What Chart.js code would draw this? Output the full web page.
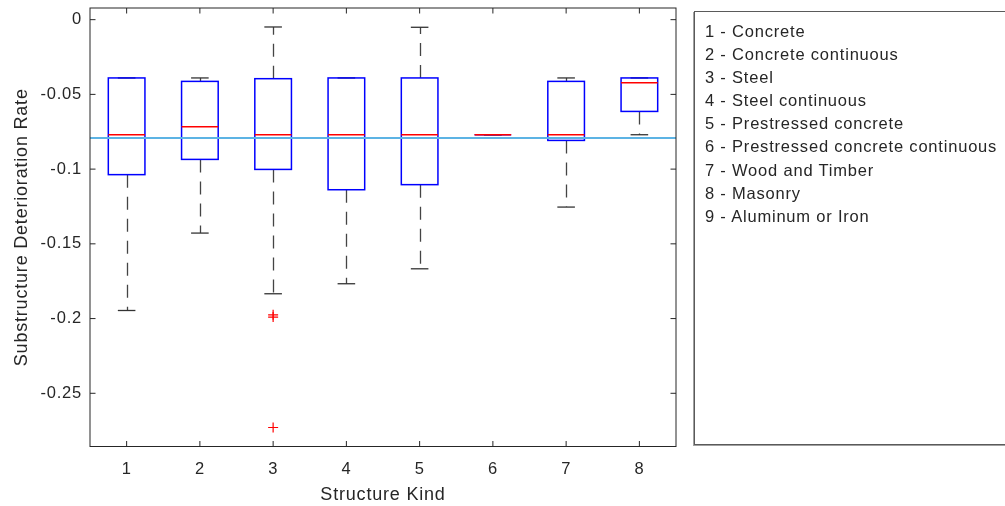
<!DOCTYPE html>
<html>
<head>
<meta charset="utf-8">
<script src="https://cdn.jsdelivr.net/npm/chart.js@4/dist/chart.umd.min.js"></script>
<style>
  body { margin: 0; background: #fff; }
  #wrap { position: relative; width: 1005px; height: 506px; overflow: hidden; }
  #kindBox {
    position: absolute; left: 694px; top: 11px; width: 340px; height: 434px;
    box-sizing: border-box; border: 1px solid #5a5a5a; box-shadow: -1px 1px 0 #a0a0a0;
    padding: 8px 0 0 10px; background: #fff;
    font-family: "Liberation Sans", Arial, sans-serif; font-size: 16.5px; letter-spacing: 0.8px;
    line-height: 23.1px; color: #262626;
  }
</style>
</head>
<body>
<div id="wrap">
  <canvas id="rateChart" width="1005" height="506"></canvas>
  <div id="kindBox"></div>
</div>
<script>
// deterioration rate summary per structure kind
const kinds = [1, 2, 3, 4, 5, 6, 7, 8];
const upperWhisker = [-0.039, -0.039, -0.0049, -0.039, -0.0051, -0.077, -0.039, -0.039];
const q3 = [-0.039, -0.0413, -0.0395, -0.039, -0.039, -0.077, -0.0413, -0.039];
const medians = [-0.077, -0.0716, -0.077, -0.077, -0.077, -0.077, -0.077, -0.0422];
const q1 = [-0.1037, -0.0935, -0.1002, -0.1138, -0.1104, -0.077, -0.0808, -0.0614];
const lowerWhisker = [-0.1946, -0.1428, -0.1834, -0.1767, -0.1667, -0.077, -0.1254, -0.077];
const outlierKind = [3, 3, 3];
const outlierRate = [-0.1975, -0.199, -0.2729];
const meanRate = -0.0792;
const yTicks = [0, -0.05, -0.1, -0.15, -0.2, -0.25];
const kindNames = [
  '1 - Concrete', '2 - Concrete continuous', '3 - Steel', '4 - Steel continuous',
  '5 - Prestressed concrete', '6 - Prestressed concrete continuous',
  '7 - Wood and Timber', '8 - Masonry', '9 - Aluminum or Iron'
];

document.getElementById('kindBox').innerHTML =
  kindNames.map(function(n) { return '<div>' + n + '</div>'; }).join('');

const FONT = '"Liberation Sans", Arial, sans-serif';
const INK = '#262626';
const boxWidth = 0.5;
const capWidth = 0.24;

function seg(ctx, x1, y1, x2, y2) {
  ctx.beginPath();
  ctx.moveTo(x1, y1);
  ctx.lineTo(x2, y2);
  ctx.stroke();
}

// whiskers, boxes and medians
const boxPlot = {
  id: 'boxPlot',
  beforeDraw(chart) {
    chart.ctx.letterSpacing = '0.8px';
  },
  beforeDatasetsDraw(chart) {
    const ctx = chart.ctx;
    const x = chart.scales.x, y = chart.scales.y;
    ctx.save();
    kinds.forEach(function(k, i) {
      const cx = Math.round(x.getPixelForValue(k)) + 0.5;
      const bl = x.getPixelForValue(k - boxWidth / 2);
      const br = x.getPixelForValue(k + boxWidth / 2);
      const cl = x.getPixelForValue(k - capWidth / 2);
      const cr = x.getPixelForValue(k + capWidth / 2);
      const yU = y.getPixelForValue(upperWhisker[i]);
      const y3 = y.getPixelForValue(q3[i]);
      const yM = y.getPixelForValue(medians[i]);
      const y1 = y.getPixelForValue(q1[i]);
      const yL = y.getPixelForValue(lowerWhisker[i]);

      ctx.strokeStyle = '#444';
      ctx.lineWidth = 1.3;
      ctx.setLineDash([13, 9]);
      if (y3 - yU > 0.5) seg(ctx, cx, y3, cx, yU);
      if (yL - y1 > 0.5) seg(ctx, cx, y1, cx, yL);
      ctx.setLineDash([]);
      ctx.strokeStyle = '#333';
      seg(ctx, cl, yU, cr, yU);
      seg(ctx, cl, yL, cr, yL);

      ctx.strokeStyle = '#0000ff';
      ctx.lineWidth = 1.5;
      ctx.strokeRect(bl, y3, br - bl, y1 - y3);

      ctx.strokeStyle = '#ff0000';
      ctx.lineWidth = 1.5;
      seg(ctx, bl, yM, br, yM);
    });
    ctx.restore();
  },
  afterDraw(chart) {
    // closed frame with inward ticks on all four sides
    const ctx = chart.ctx;
    const a = chart.chartArea;
    const x = chart.scales.x, y = chart.scales.y;
    const t = 5.5;
    ctx.save();
    ctx.strokeStyle = INK;
    ctx.lineWidth = 1;
    ctx.strokeRect(a.left, a.top, a.right - a.left, a.bottom - a.top);
    kinds.forEach(function(k) {
      const px = x.getPixelForValue(k);
      seg(ctx, px, a.bottom, px, a.bottom - t);
      seg(ctx, px, a.top, px, a.top + t);
    });
    yTicks.forEach(function(v) {
      const py = y.getPixelForValue(v);
      seg(ctx, a.left, py, a.left + t, py);
      seg(ctx, a.right, py, a.right - t, py);
    });
    ctx.restore();
  }
};

new Chart(document.getElementById('rateChart'), {
  type: 'scatter',
  data: {
    datasets: [{
      type: 'line',
      data: [{ x: 0.5, y: meanRate }, { x: 8.5, y: meanRate }],
      borderColor: '#5cb3e4',
      borderWidth: 2,
      pointRadius: 0
    }, {
      data: outlierKind.map(function(k, i) { return { x: k, y: outlierRate[i] }; }),
      pointStyle: 'cross',
      pointRadius: 5,
      borderColor: '#ff0000',
      backgroundColor: '#ff0000',
      borderWidth: 1.2
    }]
  },
  options: {
    responsive: false,
    animation: false,
    events: [],
    layout: { padding: { top: 8, right: 329, bottom: 0, left: 0 } },
    plugins: { legend: { display: false }, tooltip: { enabled: false } },
    scales: {
      x: {
        type: 'linear', min: 0.5, max: 8.5,
        afterBuildTicks: function(s) { s.ticks = kinds.map(function(v) { return { value: v }; }); },
        afterFit: function(s) { s.height = 59.5; s.paddingLeft = 0; s.paddingRight = 0; },
        grid: { display: false, drawTicks: false },
        border: { display: false },
        ticks: { padding: 13, color: INK, font: { family: FONT, size: 16.5 }, maxRotation: 0 },
        title: { display: true, text: 'Structure Kind', color: INK, font: { family: FONT, size: 18 }, padding: { top: 0, bottom: 0.5 } }
      },
      y: {
        type: 'linear', min: -0.2856, max: 0.0078,
        afterBuildTicks: function(s) { s.ticks = yTicks.map(function(v) { return { value: v }; }); },
        afterFit: function(s) { s.width = 90; s.paddingTop = 0; s.paddingBottom = 0; },
        grid: { display: false, drawTicks: false },
        border: { display: false },
        ticks: { padding: 8, color: INK, font: { family: FONT, size: 16.5 }, callback: function(v) { return String(v); } },
        title: { display: true, text: 'Substructure Deterioration Rate', color: INK, font: { family: FONT, size: 18 }, padding: { top: 11.5, bottom: 0 } }
      }
    }
  },
  plugins: [boxPlot]
});
</script>
</body>
</html>
